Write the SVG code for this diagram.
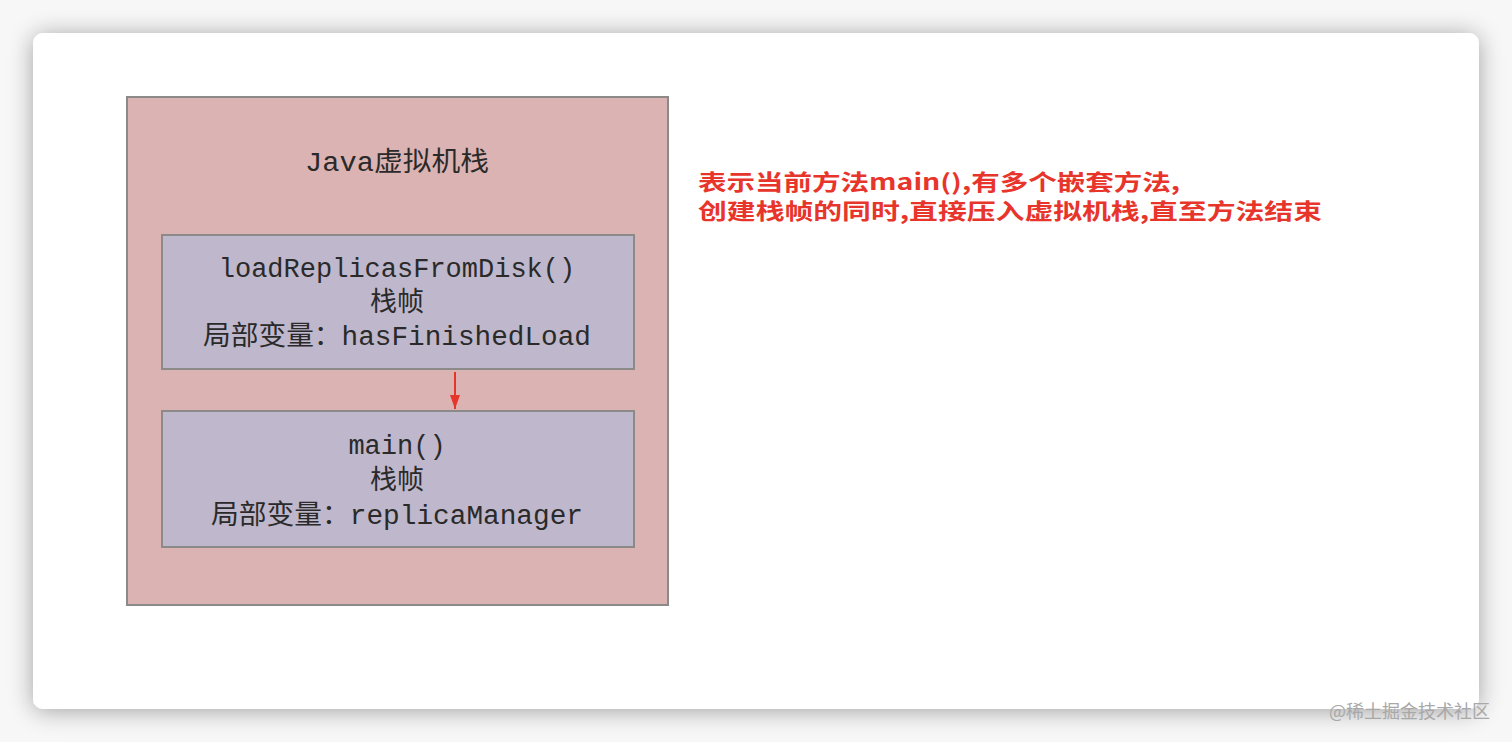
<svg xmlns="http://www.w3.org/2000/svg" width="1512" height="742" viewBox="0 0 1512 742">
<defs>
<filter id="sh" x="-10%" y="-10%" width="120%" height="120%">
<feGaussianBlur in="SourceAlpha" stdDeviation="12"/>
<feOffset dx="0" dy="2"/>
<feComponentTransfer><feFuncA type="linear" slope="0.35"/></feComponentTransfer>
<feMerge><feMergeNode/><feMergeNode in="SourceGraphic"/></feMerge>
</filter>
<marker id="ah" viewBox="0 0 14 10" refX="14" refY="5" markerWidth="14" markerHeight="10" markerUnits="userSpaceOnUse" orient="auto">
<path d="M0,0 L14,5 L0,10 Z" fill="#e8352b"/>
</marker>
<style>
.frame{stroke:#8c8a88;stroke-width:2}
.mono{font-family:"Liberation Mono","Noto Sans CJK SC",monospace;fill:#2a2a2a;text-anchor:middle}
.note{font-family:"Noto Sans CJK SC","Liberation Sans",sans-serif;fill:#e8352b;font-weight:bold;font-size:22px}
</style>
</defs>
<rect width="1512" height="742" fill="#f7f7f7"/>
<rect x="33" y="33" width="1446" height="676" rx="10" fill="#ffffff" filter="url(#sh)"/>
<g id="jvm-stack">
<rect x="127" y="97" width="541" height="508" fill="#dbb3b3" class="frame"/>
<text x="397" y="171" class="mono" font-size="27" textLength="184" lengthAdjust="spacingAndGlyphs">Java虚拟机栈</text>
</g>
<g id="frame-load">
<rect x="162" y="235" width="472" height="134" fill="#bfb7cb" class="frame"/>
<text x="397" y="277" class="mono" font-size="27">loadReplicasFromDisk()</text>
<text x="397" y="311" class="mono" font-size="27">栈帧</text>
<text x="397" y="345" class="mono" font-size="27" textLength="388" lengthAdjust="spacingAndGlyphs">局部变量：hasFinishedLoad</text>
</g>
<g id="frame-main">
<rect x="162" y="411" width="472" height="136" fill="#bfb7cb" class="frame"/>
<text x="397" y="454" class="mono" font-size="27">main()</text>
<text x="397" y="489" class="mono" font-size="27">栈帧</text>
<text x="397" y="524" class="mono" font-size="27" textLength="372" lengthAdjust="spacingAndGlyphs">局部变量：replicaManager</text>
</g>
<g id="connectors">
<line x1="455" y1="372" x2="455" y2="409" stroke="#e8352b" stroke-width="2" marker-end="url(#ah)"/>
</g>
<g id="note">
<text x="698" y="190" class="note" textLength="482" lengthAdjust="spacingAndGlyphs">表示当前方法main(),有多个嵌套方法,</text>
<text x="698" y="219" class="note" textLength="624" lengthAdjust="spacingAndGlyphs">创建栈帧的同时,直接压入虚拟机栈,直至方法结束</text>
</g>
<text x="1490" y="718" font-family="Noto Sans CJK SC, Liberation Sans, sans-serif" font-size="18" fill="#a8a8a8" text-anchor="end">@稀土掘金技术社区</text>
</svg>
